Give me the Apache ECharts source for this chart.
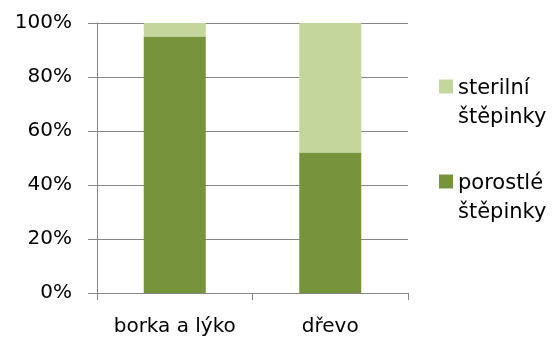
<!DOCTYPE html>
<html>
<head>
<meta charset="utf-8">
<script src="https://cdn.jsdelivr.net/npm/echarts@6/dist/echarts.min.js"></script>
<style>
  html, body { margin: 0; padding: 0; background: #fff; }
  #chart { width: 555px; height: 346px; }
</style>
</head>
<body>
<div id="chart"></div>
<script>
// Categories and percentage shares of each chip type
const categories = ['borka a lýko', 'dřevo'];
const porostle = [95, 52];   // porostlé štěpinky (%)
const sterilni = [5, 48];    // sterilní štěpinky (%)
const yTicks = [0, 20, 40, 60, 80, 100];

const FONT = 'DejaVu Sans';
const GRID_COLOR = '#868686';

const chart = echarts.init(document.getElementById('chart'), null, { renderer: 'canvas' });

// Legend swatch sits beside the first line of a two-line label
const swatch = 'path://M0,0h14v14h-14zM0,47';

chart.setOption({
  animation: false,
  backgroundColor: '#ffffff',
  grid: { left: 97, right: 147, top: 23, bottom: 53, containLabel: false },
  legend: {
    orient: 'vertical',
    left: 439,
    top: 74,
    padding: 0,
    itemGap: 37,
    itemWidth: 14,
    itemHeight: 47,
    icon: swatch,
    data: ['sterilní štěpinky', 'porostlé štěpinky'],
    formatter: name => name.replace(' ', '\n'),
    textStyle: { fontFamily: FONT, fontSize: 21, lineHeight: 29, color: '#000' }
  },
  xAxis: {
    type: 'category',
    data: categories,
    axisLine: { show: true, lineStyle: { color: GRID_COLOR, width: 1 } },
    axisTick: { show: true, length: 7, alignWithLabel: false, interval: 0, lineStyle: { color: GRID_COLOR } },
    axisLabel: { fontFamily: FONT, fontSize: 20, color: '#000', margin: 24, interval: 0, hideOverlap: false },
    splitLine: { show: false }
  },
  yAxis: {
    type: 'value',
    min: 0,
    max: 100,
    interval: 20,
    axisLine: { show: true, lineStyle: { color: GRID_COLOR, width: 1 } },
    axisTick: { show: true, length: 9, lineStyle: { color: GRID_COLOR } },
    axisLabel: {
      fontFamily: FONT, fontSize: 20, color: '#000', margin: 25,
      formatter: v => (yTicks.includes(v) ? v + '%' : '')
    },
    splitLine: { show: true, lineStyle: { color: GRID_COLOR, width: 1 } }
  },
  series: [
    {
      name: 'porostlé štěpinky',
      type: 'bar',
      stack: 'total',
      barWidth: 62,
      data: porostle,
      itemStyle: { color: '#77933C' }
    },
    {
      name: 'sterilní štěpinky',
      type: 'bar',
      stack: 'total',
      barWidth: 62,
      data: sterilni,
      itemStyle: { color: '#C3D69B' }
    }
  ]
});
</script>
</body>
</html>
